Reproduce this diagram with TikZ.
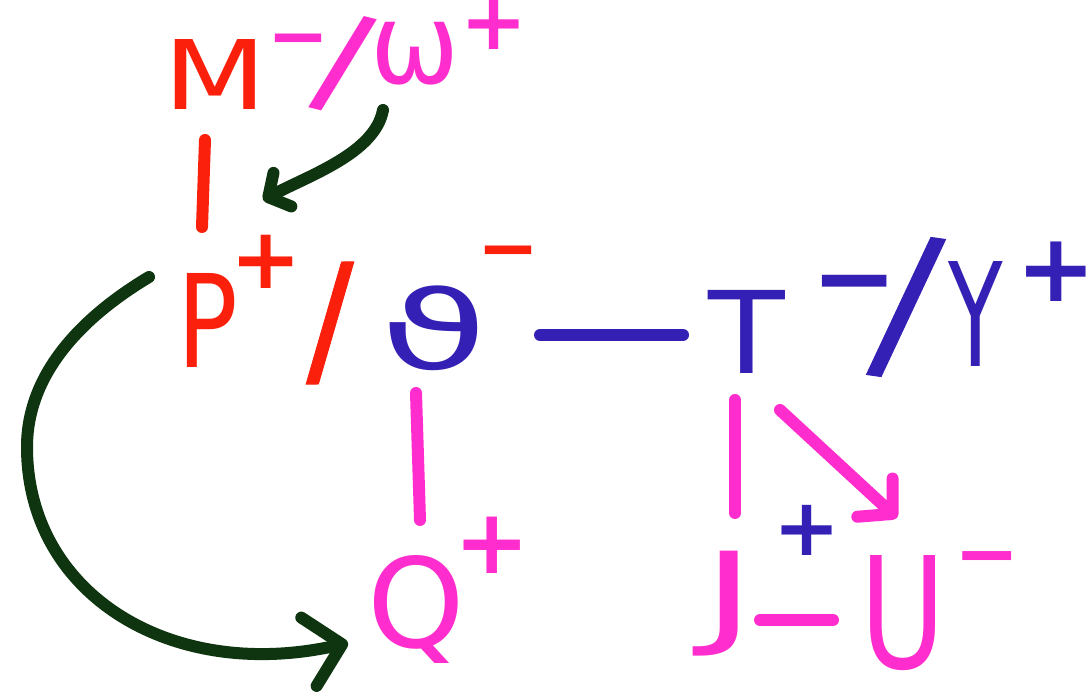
\documentclass[tikz,border=0pt]{standalone}
\usepackage{fontspec}
\setmainfont{DejaVu Sans}
\newfontfamily\slashfont[FakeBold=0.6]{DejaVu Sans}
\usetikzlibrary{arrows.meta}
\definecolor{hred}{RGB}{250,32,12}
\definecolor{hpink}{RGB}{255,45,205}
\definecolor{hblue}{RGB}{52,32,180}
\definecolor{hgreen}{RGB}{14,52,16}
\newcommand\hwl[3]{\scalebox{#1}[1]{\fontsize{#2}{#2}\selectfont #3}}
\newcommand\hws[2]{\fontsize{#1}{#1}\selectfont\bfseries #2}
\newcommand\hsl[2]{\rotatebox{#1}{\fontsize{#2}{#2}\selectfont\bfseries /}}
\newcommand\hslr[2]{\rotatebox{#1}{\slashfont\fontsize{#2}{#2}\selectfont /}}
\begin{document}
\begin{tikzpicture}[x=1pt,y=1pt,
  lt/.style={inner sep=0pt, outer sep=0pt, anchor=center},
  stroke/.style={line width=12pt, line cap=round, line join=round},
  smallhead/.style={-{Straight Barb[length=16pt 0,width=38pt 0,round]}},
  bighead/.style={-{Straight Barb[length=34pt 0,width=70pt 0,round]}},
  pinkhead/.style={-{Straight Barb[length=24pt 0,width=52pt 0,round]}}]
\fill[white] (0,0) rectangle (1090,693);
\useasboundingbox (0,0) rectangle (1090,693);
% letters
\node[lt, text=hred]  (M) at (215,618) {\hwl{1.25}{96}{M}};
\node[lt, text=hpink] (W) at (415,639) {\hwl{0.95}{112}{ω}};
\node[lt, text=hred]  (P) at (208,373) {\hwl{0.78}{129}{P}};
\node[lt, text=hblue] (S) at (434,365) {\hwl{1.6}{109}{ϑ}};
\node[lt, text=hblue] (T) at (747,361) {\hwl{1.1}{114}{T}};
\node[lt, text=hblue] (Y) at (976,379) {\hwl{0.62}{144}{Y}};
\node[lt, text=hpink] (Q) at (416,84)  {\hwl{1.0}{124}{Q}};
\node[lt, text=hpink] (J) at (729,89)  {\hwl{1.6}{113}{J}};
\node[lt, text=hpink] (U) at (903,80)  {\hwl{0.75}{155}{U}};
% charges
\node[lt, text=hpink] (Mm) at (298,645) {\hws{74}{−}};
\node[lt, text=hpink] (Wp) at (494,669) {\hws{80}{+}};
\node[lt, text=hred]  (Pp) at (266,431) {\hws{85}{+}};
\node[lt, text=hred]  (Sm) at (508,433) {\hws{74}{−}};
\node[lt, text=hblue] (Tm) at (855,399) {\hws{103}{−}};
\node[lt, text=hblue] (Yp) at (1056,421) {\hws{95}{+}};
\node[lt, text=hpink] (Qp) at (492,148) {\hws{90}{+}};
\node[lt, text=hblue] (Jp) at (807,163) {\hws{80}{+}};
\node[lt, text=hpink] (Um) at (987,127) {\hws{78}{−}};
% slashes
\node[lt, text=hpink] (s1) at (343,629) {\hsl{-14}{124}};
\node[lt, text=hred]  (s2) at (330,370) {\hslr{1}{148}};
\node[lt, text=hblue] (s3) at (906,386) {\hslr{-8}{176}};
% bonds
\draw[stroke, hred]  ([shift={(-10,-65)}]M.center) -- ([shift={(-6,93)}]P.center);
\draw[stroke, hblue] ([shift={(106,-7)}]S.center) -- ([shift={(-64,-3)}]T.center);
\draw[stroke, hpink] ([shift={(-18,-65)}]S.center) -- ([shift={(4,89)}]Q.center);
\draw[stroke, hpink] ([shift={(-12,-68)}]T.center) -- ([shift={(6,91)}]J.center);
\draw[stroke, hpink, pinkhead] ([shift={(33,-78)}]T.center) -- ([shift={(-6,95)}]U.center);
\draw[stroke, hpink] ([shift={(31,-16)}]J.center) -- ([shift={(-70,-7)}]U.center);
% green arrows
\draw[stroke, hgreen, smallhead] ([shift={(-32,-56)}]W.center)
  .. controls +(-8,-43) and +(47,25) .. ([shift={(55,120)}]P.center);
\draw[stroke, hgreen, bighead] ([shift={(-59,43)}]P.center)
  .. controls +(-50,-30) and +(0,84) .. (27,246)
  .. controls +(0,-146) and +(-178,-40) .. ([shift={(-68,-34)}]Q.center);
\end{tikzpicture}
\end{document}
